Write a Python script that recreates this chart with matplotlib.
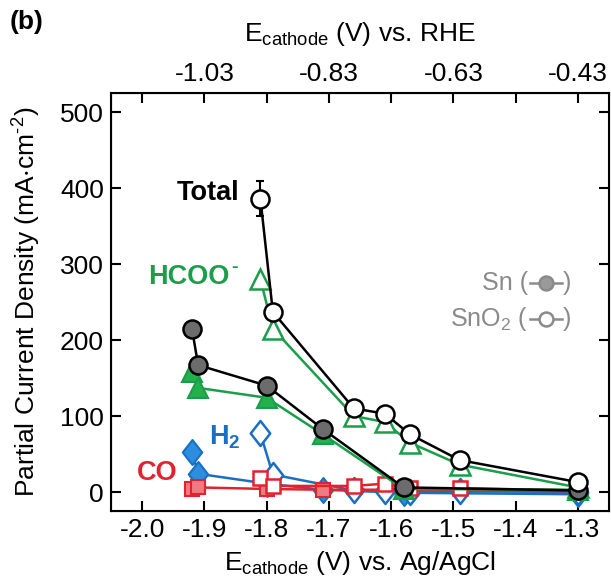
import matplotlib
matplotlib.use("Agg")
import matplotlib.pyplot as plt
from matplotlib.path import Path

plt.rcParams['font.family'] = ['Liberation Sans', 'DejaVu Sans']
plt.rcParams['mathtext.fontset'] = 'custom'
plt.rcParams['mathtext.rm'] = 'Liberation Sans'
plt.rcParams['mathtext.it'] = 'Liberation Sans:italic'
plt.rcParams['mathtext.bf'] = 'Liberation Sans:bold'
plt.rcParams['mathtext.default'] = 'regular'

# ---- data (E vs Ag/AgCl, partial current density mA/cm2) ----
# SnO2 electrode (open symbols)
x_sno2 = [-1.81, -1.79, -1.66, -1.61, -1.57, -1.49, -1.30]
total_sno2 = [386, 237, 110, 103, 76, 42, 13]
total_sno2_err = 23
hcoo_sno2 = [280, 215, 100, 92, 65, 36, 6]
h2_sno2 = [77, 23, 2, 1, 0, 1, 0]
co_sno2 = [18, 8, 8, 11, 5, 5, 2]

# Sn electrode (filled symbols)
x_sn = [-1.92, -1.91, -1.80, -1.71, -1.58, -1.30]
total_sn = [215, 167, 140, 83, 6, 2]
hcoo_sn = [158, 137, 124, 76, 4, 3]
h2_sn = [53, 24, 11, 3, -1, -3]
co_sn = [4, 6, 4, 3, 3, 1]

bottom_ticks = [-2.0, -1.9, -1.8, -1.7, -1.6, -1.5, -1.4, -1.3]
bottom_labels = ['-2.0', '-1.9', '-1.8', '-1.7', '-1.6', '-1.5', '-1.4', '-1.3']
top_labels = ['', '-1.03', '', '-0.83', '', '-0.63', '', '-0.43']
y_ticks = [0, 100, 200, 300, 400, 500]

GREEN = '#1a9e4a'
GREEN_FILL = '#22b14c'
BLUE = '#1b6fc2'
BLUE_FILL = '#2d8de0'
RED = '#e2232f'
RED_FILL = '#f07a84'
GRAY_FILL = '#6c6c6c'
LEG_GRAY = '#8a8a8a'

FS = 19

diamond = Path([(0, 1), (0.78, 0), (0, -1), (-0.78, 0), (0, 1)],
               [Path.MOVETO, Path.LINETO, Path.LINETO, Path.LINETO, Path.CLOSEPOLY])

fig = plt.figure(figsize=(6.11, 5.79), dpi=100)
ax = fig.add_axes([111/611, 1-511/579, 498/611, 418/579])

lw = 1.8
# H2 (blue diamonds) - bottom layer
ax.plot(x_sn, h2_sn, '-', color=BLUE, lw=lw, marker=diamond, ms=18,
        mfc=BLUE_FILL, mec=BLUE, mew=1.5, zorder=2)
ax.plot(x_sno2, h2_sno2, '-', color=BLUE, lw=lw, marker=diamond, ms=18,
        mfc='white', mec=BLUE, mew=1.8, zorder=2)
# CO (red squares)
ax.plot(x_sn, co_sn, '-', color=RED, lw=lw, marker='s', ms=10.5,
        mfc=RED_FILL, mec=RED, mew=1.5, zorder=3)
ax.plot(x_sno2, co_sno2, '-', color=RED, lw=lw, marker='s', ms=10.5,
        mfc='white', mec=RED, mew=1.8, zorder=3)
# HCOO- (green triangles)
ax.plot(x_sn, hcoo_sn, '-', color=GREEN, lw=lw, marker='^', ms=14,
        mfc=GREEN_FILL, mec=GREEN, mew=1.5, zorder=4)
ax.plot(x_sno2, hcoo_sno2, '-', color=GREEN, lw=lw, marker='^', ms=14,
        mfc='white', mec=GREEN, mew=1.8, zorder=4)
# Total (circles)
ax.errorbar([x_sno2[0]], [total_sno2[0]], yerr=[total_sno2_err], fmt='none',
            ecolor='black', elinewidth=1.5, capsize=3, capthick=1.5, zorder=4.5)
ax.plot(x_sn, total_sn, '-', color='black', lw=lw, marker='o', ms=13,
        mfc=GRAY_FILL, mec='black', mew=1.8, zorder=5)
ax.plot(x_sno2, total_sno2, '-', color='black', lw=lw, marker='o', ms=13,
        mfc='white', mec='black', mew=1.8, zorder=5)

ax.set_xlim(-2.05, -1.25)
ax.set_ylim(-25, 525)
ax.set_xticks(bottom_ticks)
ax.set_xticklabels(bottom_labels)
ax.set_yticks(y_ticks)
ax.tick_params(axis='both', direction='in', length=7, width=1.5, labelsize=FS,
               right=True, pad=5)
for s in ax.spines.values():
    s.set_linewidth(1.5)

ax.set_xlabel(r'E$_{\mathrm{cathode}}$ (V) vs. Ag/AgCl', fontsize=FS, labelpad=5)
ax.set_ylabel(r'Partial Current Density (mA$\cdot$cm$^{\text{-}2}$)', fontsize=FS, labelpad=12)

axt = ax.twiny()
axt.set_xlim(ax.get_xlim())
axt.set_xticks(bottom_ticks)
axt.set_xticklabels(top_labels)
axt.tick_params(axis='x', direction='in', length=7, width=1.5, labelsize=FS, pad=5)
axt.set_xlabel(r'E$_{\mathrm{cathode}}$ (V) vs. RHE', fontsize=FS, labelpad=15)

# annotations
AFS = 19.5
ax.text(-1.945, 384, 'Total', fontsize=AFS, fontweight='bold', color='black',
        ha='left', va='baseline', zorder=6)
ax.text(-1.990, 274, 'HCOO', fontsize=AFS, fontweight='bold', color=GREEN,
        ha='left', va='baseline', zorder=6)
ax.text(-1.857, 290, '-', fontsize=14, fontweight='bold', color=GREEN,
        ha='left', va='baseline', zorder=6)
ax.text(-1.892, 63, r'H$_{\mathbf{2}}$', fontsize=AFS, fontweight='bold', color=BLUE,
        ha='left', va='baseline', zorder=6)
ax.text(-2.009, 16, 'CO', fontsize=AFS, fontweight='bold', color=RED,
        ha='left', va='baseline', zorder=6)

# legend-like gray texts
def px2ax(px, py):
    return (px - 111) / 498, (511 - py) / 418

for label, py, fill in [('Sn (', 283, '#9a9a9a'), (r'SnO$_2$ (', 319, 'white')]:
    xa, ya = px2ax(528, py)
    ax.text(xa, ya, label, transform=ax.transAxes, fontsize=18, color=LEG_GRAY,
            ha='right', va='center')
    x1, _ = px2ax(530, py)
    x2, _ = px2ax(562, py)
    xc, _ = px2ax(546, py)
    ax.plot([x1, x2], [ya, ya], color=LEG_GRAY, lw=1.8, transform=ax.transAxes,
            clip_on=False, zorder=6)
    ax.plot([xc], [ya], marker='o', ms=10, mfc=fill, mec=LEG_GRAY, mew=1.8,
            transform=ax.transAxes, clip_on=False, zorder=7)
    xr, _ = px2ax(563, py)
    ax.text(xr, ya, ')', transform=ax.transAxes, fontsize=18, color=LEG_GRAY,
            ha='left', va='center')

fig.text(10/611, 1-22/579, '(b)', fontsize=19, fontweight='bold', ha='left', va='center')

fig.savefig('out.png', dpi=100)
